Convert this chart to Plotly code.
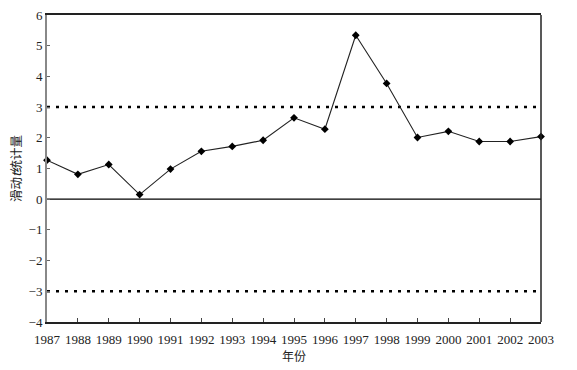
import plotly.graph_objects as go

years = list(range(1987, 2004))
t_values = [1.27, 0.81, 1.13, 0.15, 0.98, 1.56, 1.72, 1.92, 2.65, 2.28,
            5.34, 3.77, 2.01, 2.21, 1.88, 1.88, 2.04]
thresholds = [3, -3]
y_ticks = [-4, -3, -2, -1, 0, 1, 2, 3, 4, 5, 6]
y_tick_labels = ["\u22124", "\u22123", "\u22122", "\u22121", "0", "1", "2", "3", "4", "5", "6"]

serif = "Liberation Serif, Times New Roman, serif"
cjk = "Noto Sans CJK SC"

fig = go.Figure()

# zero line
fig.add_trace(go.Scatter(x=[years[0], years[-1]], y=[0, 0], mode="lines",
                         line=dict(color="black", width=1.2), showlegend=False,
                         hoverinfo="skip"))
for th in thresholds:
    fig.add_trace(go.Scatter(x=[years[0], years[-1]], y=[th, th], mode="lines",
                             line=dict(color="black", width=2.5, dash="3px,6px"),
                             showlegend=False, hoverinfo="skip"))

fig.add_trace(go.Scatter(x=years, y=t_values, mode="lines+markers",
                         line=dict(color="#222222", width=1.1),
                         marker=dict(symbol="diamond", size=6, color="black"),
                         cliponaxis=False, showlegend=False))

# right border
fig.add_shape(type="line", xref="paper", yref="paper", x0=1, x1=1, y0=0, y1=1,
              line=dict(color="#222222", width=1.5))

fig.update_layout(
    width=577, height=370,
    margin=dict(l=47, r=36, t=15, b=48, autoexpand=False),
    paper_bgcolor="white", plot_bgcolor="white",
    font=dict(family=serif, size=12, color="#222222"),
    xaxis=dict(range=[years[0], years[-1]], tickmode="array", tickvals=years,
               ticktext=[str(y) for y in years], ticks="inside", ticklen=4,
               tickcolor="#444444", showgrid=False, zeroline=False, automargin=False,
               showline=True, linecolor="#222222", linewidth=1.5, mirror=True,
               tickfont=dict(family=serif, size=13), ticklabelstandoff=5,
               title=dict(text="年份", font=dict(family=cjk, size=12), standoff=0)),
    yaxis=dict(range=[-4, 6], tickmode="array", tickvals=y_ticks, ticktext=y_tick_labels,
               ticks="inside", ticklen=3, tickcolor="#666666", showgrid=False,
               zeroline=False, showline=True, linecolor="#888888", linewidth=2,
               automargin=False, tickfont=dict(family=serif, size=13),
               title=dict(text="滑动<i>t</i>统计量", font=dict(family=cjk, size=12.5), standoff=4)),
)

fig.write_html("out.html", config={"displayModeBar": False})
with open("out.html", "r", encoding="utf-8") as f:
    html = f.read()
html = html.replace("<head>", "<head><style>html,body{margin:0;padding:0;}</style>", 1)
with open("out.html", "w", encoding="utf-8") as f:
    f.write(html)
